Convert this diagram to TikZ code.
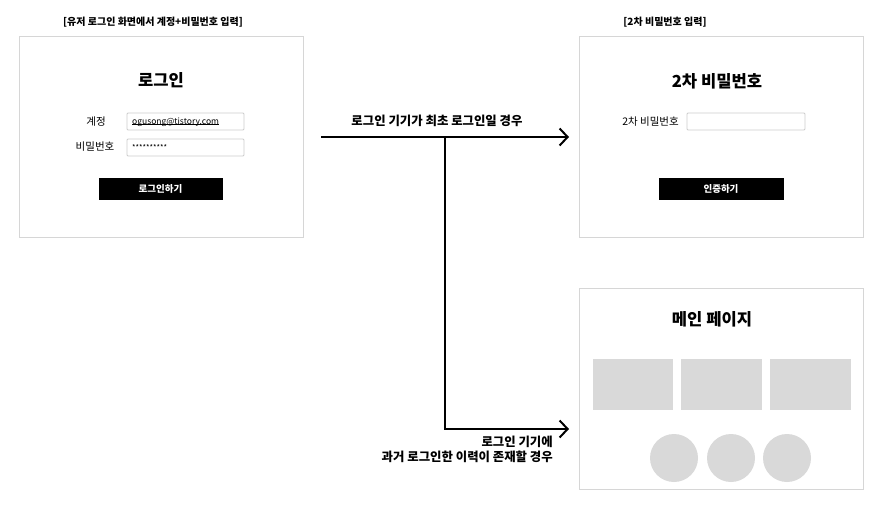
\documentclass[tikz,border=0pt]{standalone}
\usepackage{fontspec}
\setmainfont{Noto Sans CJK KR}
\usetikzlibrary{arrows.meta}
\definecolor{frame}{HTML}{D6D6D6}
\definecolor{field}{HTML}{CCCCCC}
\definecolor{block}{HTML}{D9D9D9}
\begin{document}
\begin{tikzpicture}[x=1pt,y=-1pt,
  screen/.style={draw=frame,line width=1pt},
  inbox/.style={draw=field,line width=0.8pt,rounded corners=1pt},
  btn/.style={fill=black},
  caption/.style={font=\fontsize{10}{12}\selectfont\bfseries},
  title/.style={font=\fontsize{16.6}{20}\selectfont\bfseries},
  lbl/.style={font=\fontsize{10.5}{12}\selectfont},
  btntext/.style={font=\fontsize{9.5}{11}\selectfont\bfseries,text=white},
  flow/.style={line width=2pt,-{Straight Barb[length=8pt,width=17pt,line width=2pt]}},
  flowlbl/.style={font=\fontsize{12.4}{15}\selectfont\bfseries},
  gblock/.style={fill=block},
]
\useasboundingbox (0,0) rectangle (881,504);

% ---------- Login screen ----------
\node[caption] (cap1) at (153,22) {[유저 로그인 화면에서 계정+비밀번호 입력]};
\draw[screen] (19,36) rectangle (303,237);
\node[title] (t1) at (161,80) {로그인};
\node[lbl] (l1) at (96,122) {계정};
\node[lbl] (l2) at (95,147) {비밀번호};
\draw[inbox] (127,113) rectangle (244,130);
\draw[inbox] (127,139) rectangle (244,156);
\node[lbl,anchor=west,font=\fontsize{8.5}{10}\selectfont,inner sep=0pt] (email) at (132,122) {ogusong@tistory.com};
\draw[line width=0.5pt] (email.south west) ++(0,-2) -- ([yshift=2pt]email.south east);
\node[lbl,anchor=west,font=\fontsize{7.5}{8}\selectfont,inner sep=0pt] (pw) at (132,148) {**********};
\draw[btn] (99,178) rectangle (222,199);
\node[btntext] (b1) at (160.5,188.5) {로그인하기};

% ---------- 2FA screen ----------
\node[caption] (cap2) at (665,22) {[2차 비밀번호 입력]};
\draw[screen] (579,36) rectangle (863,237);
\node[title] (t2) at (717,81) {2차 비밀번호};
\node[lbl] (l3) at (650.5,122) {2차 비밀번호};
\draw[inbox] (687,113) rectangle (805,130);
\draw[btn] (659,178) rectangle (783,199);
\node[btntext] (b2) at (721,188.5) {인증하기};

% ---------- Main page ----------
\draw[screen] (579,288) rectangle (863,489);
\node[title] (t3) at (712,319) {메인 페이지};
\fill[gblock] (593,359) rectangle (673,410);
\fill[gblock] (681,359) rectangle (762,410);
\fill[gblock] (770,359) rectangle (851,410);
\fill[gblock] (674,458) circle (24);
\fill[gblock] (731,458) circle (24);
\fill[gblock] (787,458) circle (24);

% ---------- Flow ----------
\coordinate (s) at (321,137);
\coordinate (br) at (445,137);
\coordinate (corner) at (445,429);
\coordinate (e1) at (569,137);
\coordinate (e2) at (569,429);
\draw[flow] (s) -- (e1);
\draw[flow] (br) -- (corner) -- (e2);
\node[flowlbl] (f1) at (437,121) {로그인 기기가 최초 로그인일 경우};
\node[flowlbl,anchor=east,align=right,inner sep=0pt] (f2) at (553,449.5) {로그인 기기에\\과거 로그인한 이력이 존재할 경우};
\end{tikzpicture}
\end{document}
